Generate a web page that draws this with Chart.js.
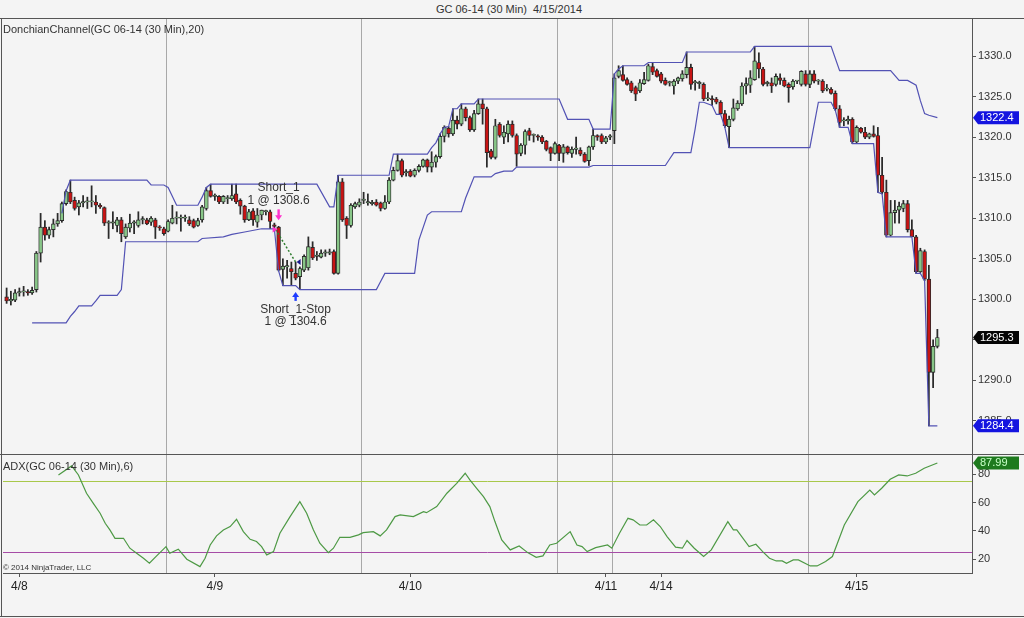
<!DOCTYPE html>
<html>
<head>
<meta charset="utf-8">
<title>GC 06-14 (30 Min) 4/15/2014</title>
<script src="https://cdn.jsdelivr.net/npm/chart.js@4.4.1/dist/chart.umd.min.js"></script>
<style>
  html, body { margin: 0; padding: 0; background: #f4f4f4; }
  body { width: 1024px; height: 618px; position: relative; overflow: hidden;
         font-family: "Liberation Sans", Arial, sans-serif; color: #333; }
  .box { position: absolute; }
  .txt { position: absolute; white-space: nowrap; line-height: 13px; }
  .hl { position: absolute; height: 1px; background: #555; }
  .vl { position: absolute; width: 1px; background: #555; }
</style>
</head>
<body>
<div class="box" style="left:0;top:18px;width:1024px;height:436px"><canvas id="priceChart"></canvas></div>
<div class="box" style="left:0;top:454px;width:1024px;height:162px"><canvas id="adxChart"></canvas></div>

<div class="txt" style="left:0;width:1018px;text-align:center;top:3px;font-size:11px">GC 06-14 (30 Min)&nbsp; 4/15/2014</div>
<div class="txt" style="left:3px;top:23px;font-size:11px">DonchianChannel(GC 06-14 (30 Min),20)</div>
<div class="txt" style="left:3px;top:460px;font-size:11px">ADX(GC 06-14 (30 Min),6)</div>
<div class="txt" style="left:3px;top:563px;font-size:8px;line-height:10px">© 2014 NinjaTrader, LLC</div>

<div class="hl" style="left:0;top:18px;width:1024px"></div>
<div class="hl" style="left:0;top:454px;width:1024px"></div>
<div class="hl" style="left:0;top:616px;width:1024px"></div>
<div class="vl" style="left:1px;top:18px;height:599px"></div>

<script>
// 30 min bars, index 0 = first bar on screen (evening of 4/7)
const opens = [
  1300.3, 1299.8, 1299.9, 1300.8, 1300.9, 1300.9, 1300.8, 1301.2, 1305.7, 1308.9,
  1307.9, 1308.6, 1309.3, 1309.7, 1311.8, 1313.2, 1312.2, 1311.4, 1311.9, 1312.0,
  1312.0, 1312.0, 1311.6, 1311.3, 1309.4, 1309.4, 1309.1, 1309.8, 1307.7, 1308.8,
  1309.4, 1309.1, 1309.8, 1309.8, 1309.5, 1309.8, 1308.9, 1308.7, 1308.4, 1309.4,
  1310.0, 1310.0, 1310.0, 1309.8, 1309.7, 1309.1, 1309.8, 1311.2, 1313.4, 1312.7,
  1312.7, 1312.0, 1312.4, 1312.4, 1313.0, 1312.2, 1311.5, 1309.8, 1310.9, 1309.5,
  1310.4, 1310.8, 1310.8, 1309.2, 1308.9, 1303.7, 1304.0, 1303.8, 1303.2, 1302.8,
  1303.6, 1303.9, 1306.4, 1305.3, 1305.2, 1305.7, 1305.7, 1305.9, 1303.2, 1314.5,
  1310.0, 1309.1, 1311.4, 1311.6, 1312.2, 1311.9, 1311.8, 1312.0, 1311.9, 1311.2,
  1312.0, 1314.7, 1315.9, 1317.1, 1315.6, 1315.8, 1315.3, 1315.9, 1316.4, 1317.2,
  1316.3, 1316.9, 1317.6, 1320.1, 1321.1, 1320.4, 1322.1, 1321.6, 1323.5, 1322.4,
  1320.9, 1322.9, 1324.1, 1323.5, 1318.3, 1317.5, 1321.6, 1320.0, 1320.4, 1321.6,
  1320.2, 1318.0, 1319.0, 1320.8, 1320.2, 1320.1, 1320.0, 1319.5, 1318.7, 1318.0,
  1319.0, 1318.0, 1318.8, 1318.0, 1318.5, 1318.4, 1317.9, 1317.1, 1318.8, 1320.2,
  1320.2, 1319.4, 1320.0, 1320.8, 1327.5, 1327.7, 1327.1, 1326.7, 1326.1, 1325.7,
  1326.6, 1327.0, 1328.7, 1328.2, 1327.8, 1327.0, 1326.7, 1326.3, 1326.9, 1327.2,
  1327.7, 1328.6, 1326.7, 1326.6, 1326.5, 1324.7, 1324.7, 1324.7, 1324.3, 1322.9,
  1321.3, 1322.2, 1323.5, 1324.1, 1326.3, 1326.4, 1327.1, 1329.2, 1328.4, 1326.6,
  1326.7, 1326.5, 1327.3, 1327.0, 1326.5, 1326.2, 1326.9, 1326.5, 1327.8, 1326.5,
  1327.8, 1326.9, 1326.9, 1325.9, 1325.9, 1325.4, 1323.5, 1322.0, 1322.0, 1322.2,
  1319.4, 1321.1, 1320.6, 1320.0, 1320.4, 1320.2, 1315.3, 1313.2, 1307.9, 1310.7,
  1311.0, 1311.2, 1311.8, 1308.6, 1307.7, 1303.4, 1305.9, 1302.5, 1291.0, 1294.2
];
const highs = [
  1301.4, 1301.0, 1301.2, 1301.4, 1301.6, 1301.2, 1301.5, 1305.9, 1310.6, 1309.7,
  1308.9, 1309.9, 1310.6, 1312.0, 1313.5, 1314.7, 1312.6, 1312.2, 1312.8, 1312.6,
  1314.0, 1312.8, 1311.8, 1311.4, 1309.7, 1310.8, 1310.1, 1310.1, 1309.3, 1310.5,
  1309.7, 1310.8, 1310.2, 1310.0, 1310.2, 1310.0, 1309.1, 1308.9, 1309.8, 1311.6,
  1310.8, 1310.4, 1310.4, 1310.2, 1309.9, 1310.0, 1311.6, 1313.8, 1314.2, 1313.0,
  1312.8, 1312.8, 1312.8, 1314.2, 1314.2, 1312.4, 1311.6, 1311.1, 1311.2, 1311.2,
  1311.0, 1311.0, 1311.0, 1309.4, 1309.0, 1305.0, 1304.8, 1304.6, 1304.6, 1304.0,
  1305.5, 1307.7, 1307.1, 1305.9, 1306.1, 1306.1, 1306.2, 1306.1, 1315.3, 1314.9,
  1310.2, 1311.8, 1312.0, 1312.4, 1313.2, 1313.0, 1312.2, 1312.3, 1312.0, 1312.8,
  1315.0, 1316.3, 1317.9, 1317.3, 1316.0, 1316.0, 1316.1, 1316.6, 1317.3, 1317.3,
  1318.2, 1317.8, 1320.4, 1321.4, 1321.3, 1323.5, 1322.6, 1324.1, 1323.7, 1322.6,
  1323.3, 1324.7, 1324.7, 1323.7, 1318.5, 1322.2, 1321.8, 1321.4, 1322.0, 1322.0,
  1320.4, 1319.2, 1320.9, 1321.1, 1320.4, 1320.3, 1320.2, 1319.6, 1318.8, 1319.4,
  1319.1, 1319.1, 1318.9, 1318.8, 1320.0, 1318.7, 1318.1, 1318.9, 1321.0, 1320.3,
  1320.4, 1320.1, 1320.3, 1327.8, 1328.8, 1328.8, 1327.3, 1326.9, 1326.3, 1327.1,
  1328.0, 1329.0, 1329.2, 1328.4, 1328.0, 1327.3, 1326.9, 1327.1, 1327.4, 1328.2,
  1330.5, 1329.0, 1327.0, 1326.9, 1326.7, 1325.5, 1325.1, 1324.9, 1324.5, 1323.3,
  1322.6, 1324.7, 1324.5, 1326.7, 1327.3, 1328.2, 1331.2, 1330.4, 1328.6, 1326.9,
  1327.3, 1327.8, 1327.8, 1327.3, 1326.7, 1327.1, 1327.0, 1328.2, 1328.2, 1328.2,
  1328.2, 1327.1, 1327.1, 1326.5, 1326.1, 1325.7, 1323.9, 1322.4, 1322.6, 1322.4,
  1321.4, 1321.2, 1321.2, 1320.5, 1321.4, 1321.2, 1317.5, 1314.7, 1312.2, 1312.2,
  1312.0, 1312.2, 1312.2, 1309.8, 1307.9, 1306.3, 1306.1, 1304.2, 1295.0, 1296.3
];
const lows = [
  1299.5, 1299.3, 1299.7, 1300.4, 1300.4, 1300.5, 1300.6, 1300.9, 1304.6, 1307.3,
  1307.5, 1307.7, 1309.0, 1309.5, 1311.6, 1311.8, 1311.0, 1310.4, 1311.4, 1311.2,
  1311.4, 1310.6, 1311.2, 1309.1, 1307.5, 1308.7, 1308.3, 1307.1, 1307.5, 1308.3,
  1308.1, 1308.9, 1309.3, 1309.2, 1309.1, 1307.5, 1308.5, 1307.9, 1308.3, 1309.3,
  1309.3, 1308.4, 1309.6, 1309.1, 1308.8, 1309.0, 1309.5, 1311.0, 1312.6, 1312.2,
  1311.8, 1311.8, 1311.8, 1312.2, 1311.8, 1310.5, 1309.5, 1309.7, 1309.1, 1308.9,
  1309.8, 1310.4, 1308.7, 1308.8, 1303.5, 1301.7, 1302.6, 1301.8, 1302.4, 1301.2,
  1303.4, 1303.6, 1304.9, 1304.8, 1305.1, 1305.3, 1305.5, 1303.1, 1303.1, 1309.6,
  1307.5, 1308.9, 1311.2, 1311.4, 1311.8, 1311.6, 1311.6, 1311.5, 1310.9, 1311.1,
  1311.8, 1314.6, 1315.8, 1315.1, 1315.2, 1315.1, 1315.1, 1315.7, 1316.3, 1315.7,
  1315.7, 1316.3, 1317.4, 1319.4, 1320.0, 1320.2, 1321.0, 1321.4, 1322.0, 1320.7,
  1320.7, 1322.8, 1321.6, 1316.3, 1317.3, 1317.3, 1320.0, 1319.2, 1319.4, 1320.0,
  1316.4, 1317.7, 1317.9, 1319.6, 1319.4, 1319.6, 1319.2, 1318.3, 1317.1, 1317.9,
  1317.1, 1316.9, 1317.9, 1317.5, 1317.9, 1317.7, 1316.9, 1316.5, 1318.5, 1319.6,
  1319.2, 1319.2, 1319.7, 1319.2, 1327.3, 1326.9, 1326.4, 1325.5, 1324.5, 1325.5,
  1326.5, 1326.9, 1327.7, 1327.4, 1326.7, 1326.4, 1326.3, 1325.3, 1326.6, 1326.9,
  1327.3, 1325.9, 1325.8, 1326.0, 1324.5, 1324.5, 1323.9, 1324.1, 1322.8, 1321.2,
  1318.7, 1322.0, 1323.3, 1323.9, 1325.3, 1325.5, 1327.0, 1327.3, 1326.3, 1326.3,
  1325.5, 1326.3, 1326.5, 1326.2, 1324.3, 1325.9, 1326.6, 1326.3, 1326.3, 1326.1,
  1326.7, 1326.5, 1325.5, 1325.7, 1325.3, 1323.3, 1321.2, 1321.4, 1321.6, 1319.2,
  1319.2, 1320.5, 1319.8, 1319.8, 1320.0, 1313.2, 1313.0, 1307.7, 1307.8, 1309.4,
  1309.4, 1310.8, 1308.3, 1307.8, 1303.2, 1303.3, 1302.3, 1284.4, 1289.1, 1294.0
];
const closes = [
  1299.8, 1300.0, 1300.8, 1300.9, 1301.0, 1300.8, 1301.1, 1305.7, 1308.9, 1307.9,
  1308.6, 1309.3, 1309.7, 1311.8, 1313.3, 1312.0, 1311.2, 1311.9, 1312.0, 1312.0,
  1312.0, 1311.6, 1311.4, 1309.4, 1309.4, 1309.4, 1309.8, 1308.1, 1308.9, 1309.4,
  1309.4, 1309.8, 1309.8, 1309.3, 1310.0, 1308.9, 1308.8, 1308.1, 1309.6, 1310.0,
  1310.0, 1310.0, 1310.0, 1309.3, 1308.9, 1309.7, 1311.4, 1313.4, 1312.7, 1312.7,
  1312.0, 1312.7, 1312.4, 1312.8, 1312.0, 1311.5, 1309.8, 1310.8, 1309.8, 1310.4,
  1311.0, 1310.8, 1309.6, 1309.0, 1303.6, 1304.1, 1304.0, 1303.4, 1302.6, 1303.8,
  1305.3, 1306.5, 1305.1, 1305.3, 1305.7, 1305.7, 1305.8, 1303.2, 1314.5, 1309.8,
  1309.1, 1311.6, 1311.8, 1312.0, 1312.2, 1311.9, 1311.8, 1311.6, 1311.2, 1312.0,
  1314.7, 1315.9, 1317.1, 1315.3, 1315.7, 1315.2, 1315.9, 1316.4, 1317.2, 1316.3,
  1316.9, 1317.6, 1320.1, 1321.2, 1320.4, 1322.1, 1321.6, 1323.5, 1322.4, 1320.9,
  1322.9, 1324.1, 1323.5, 1318.1, 1317.5, 1321.4, 1320.2, 1320.6, 1321.6, 1320.2,
  1317.9, 1319.0, 1320.7, 1320.2, 1320.2, 1320.0, 1319.4, 1318.5, 1318.0, 1319.2,
  1318.0, 1318.8, 1318.1, 1318.5, 1318.5, 1317.9, 1317.0, 1318.8, 1320.2, 1320.0,
  1319.4, 1319.9, 1320.0, 1327.3, 1328.2, 1327.0, 1326.5, 1325.7, 1325.3, 1326.7,
  1327.1, 1328.8, 1328.0, 1327.5, 1326.9, 1326.5, 1326.7, 1326.9, 1327.3, 1327.8,
  1328.6, 1326.5, 1326.7, 1326.6, 1324.7, 1324.7, 1324.6, 1324.3, 1322.9, 1321.4,
  1322.2, 1323.6, 1324.2, 1326.3, 1326.6, 1327.3, 1329.4, 1328.4, 1326.5, 1326.6,
  1326.3, 1327.5, 1327.0, 1326.3, 1326.1, 1326.9, 1326.9, 1328.1, 1326.5, 1327.8,
  1326.9, 1326.9, 1325.7, 1325.9, 1325.4, 1323.5, 1321.8, 1322.0, 1322.2, 1319.4,
  1321.2, 1320.6, 1320.0, 1320.4, 1320.1, 1315.3, 1313.2, 1307.9, 1310.7, 1311.0,
  1311.5, 1311.8, 1308.6, 1307.7, 1303.4, 1306.0, 1302.5, 1291.0, 1294.2, 1295.3
];

// DonchianChannel(20) (bar index, price)
const upperBars = [13, 14, 15, 33, 34, 37, 38, 40, 45, 46, 47, 48, 73, 76, 77, 78, 90, 91, 99, 100,
  101, 102, 103, 104, 105, 106, 107, 110, 111, 130, 132, 137, 138, 142, 143, 144, 145, 150, 151, 159,
  160, 175, 176, 194, 196, 208, 210, 212, 214, 215, 216, 217, 219];
const upperVals = [1310.6, 1313.4, 1314.7, 1314.7, 1314.1, 1314.1, 1313.8, 1311.6, 1311.6, 1312.6,
  1313.8, 1314.2, 1314.2, 1311.4, 1311.4, 1315.3, 1315.3, 1317.9, 1317.9, 1318.7,
  1319.3, 1320.4, 1321.2, 1321.3, 1323.5, 1323.5, 1324.1, 1324.1, 1324.7, 1324.7,
  1322.2, 1322.2, 1321.0, 1321.0, 1327.8, 1328.4, 1328.8, 1328.8, 1329.2, 1329.2,
  1330.5, 1330.5, 1331.2, 1331.2, 1328.2, 1328.2, 1327.0, 1327.0, 1326.4, 1324.5,
  1322.9, 1322.7, 1322.4];
const lowerBars = [6, 14, 15, 16, 17, 20, 21, 22, 26, 27, 28, 45, 46, 51, 53, 56, 60, 63, 64, 65,
  68, 69, 87, 88, 89, 96, 97, 99, 100, 107, 108, 110, 114, 115, 117, 119, 120, 137, 138, 155,
  156, 157, 161, 162, 163, 164, 166, 167, 168, 169, 170, 189, 190, 191, 194, 195, 196, 198, 199, 204,
  205, 206, 207, 213, 214, 215, 216, 217, 219];
const lowerVals = [1297.1, 1297.1, 1297.9, 1298.5, 1299.2, 1299.2, 1299.8, 1300.5, 1300.5, 1301.2,
  1307.1, 1307.1, 1307.5, 1307.7, 1308.0, 1308.3, 1308.7, 1308.7, 1303.5, 1301.7,
  1301.7, 1301.2, 1301.2, 1302.2, 1303.2, 1303.2, 1307.3, 1310.4, 1310.8, 1310.8,
  1312.5, 1315.1, 1315.1, 1315.5, 1315.8, 1315.8, 1316.3, 1316.3, 1316.5, 1316.5,
  1317.3, 1318.1, 1318.1, 1321.0, 1324.3, 1324.3, 1323.9, 1322.8, 1322.8, 1321.2,
  1318.7, 1318.7, 1321.5, 1324.3, 1324.3, 1323.3, 1321.2, 1321.2, 1319.2, 1319.2,
  1313.2, 1313.0, 1307.7, 1307.7, 1303.2, 1303.2, 1302.3, 1284.4, 1284.4];

// ADX(6), vertices
const adxBars = [12.2, 15.3, 16.9, 18.8, 20.4, 22.0, 23.2, 24.3, 25.5, 27.5,
  29.0, 30.6, 32.2, 33.6, 35.3, 37.5, 38.4, 40.4, 42.4, 45.5,
  46.7, 47.9, 49.4, 51.0, 52.6, 54.1, 55.7, 57.3, 58.8, 60.0,
  61.2, 62.8, 64.3, 66.7, 69.0, 70.6, 72.2, 73.7, 75.7, 76.9,
  78.4, 80.8, 82.8, 83.9, 86.3, 87.9, 89.4, 91.4, 92.6, 95.7,
  98.1, 98.8, 101.2, 103.6, 105.9, 107.9, 109.0, 110.6, 112.2, 113.7,
  114.9, 116.5, 118.5, 120.6, 122.6, 124.6, 126.2, 127.8, 129.4, 132.6,
  134.2, 135.4, 136.6, 138.6, 141.4, 142.4, 144.2, 146.2, 147.4, 149.0,
  150.6, 152.2, 153.8, 155.4, 157.4, 159.0, 160.1, 161.8, 164.0, 165.8,
  169.7, 171.0, 171.8, 174.7, 176.3, 177.9, 179.5, 181.1, 182.5, 183.5,
  185.1, 186.3, 189.1, 190.7, 192.7, 194.3, 197.1, 200.3, 203.1, 204.2,
  205.9, 207.9, 209.9, 211.9, 213.9, 215.9, 219];
const adxVals = [79.5, 85.9, 79.5, 66.6, 59.5, 52.5, 45.4, 40.7, 34.8, 34.8,
  27.8, 24.2, 20.7, 17.2, 22.4, 28.9, 24.2, 27.1, 20.0, 14.8,
  20.7, 30.1, 36.5, 40.7, 43.1, 48.2, 39.5, 34.1, 32.5, 28.9,
  23.1, 25.4, 38.4, 50.1, 60.7, 52.5, 40.7, 31.3, 24.7, 27.8,
  35.5, 35.5, 37.2, 38.8, 39.5, 36.5, 40.7, 50.1, 51.3, 50.1,
  53.6, 52.9, 57.2, 66.6, 73.6, 80.7, 76.0, 70.1, 64.2, 57.2,
  46.6, 33.6, 26.6, 29.4, 24.7, 21.4, 22.4, 30.1, 31.3, 39.5,
  30.1, 28.9, 25.4, 28.2, 30.1, 27.8, 38.4, 48.9, 47.8, 44.2,
  44.2, 47.8, 43.1, 36.0, 28.5, 27.8, 33.2, 27.8, 21.9, 26.6,
  46.6, 40.7, 40.7, 28.9, 30.6, 25.4, 20.7, 18.8, 18.8, 17.2,
  19.5, 19.5, 15.3, 15.3, 18.4, 21.9, 44.2, 60.7, 68.9, 65.4,
  70.1, 76.5, 79.5, 78.8, 80.7, 84.2, 87.99];
const adxLevels = [75, 25];

// axes
const priceTicks = [1285, 1290, 1295, 1300, 1305, 1310, 1315, 1320, 1325, 1330];
const adxTicks = [20, 40, 60, 80];
const dateTickBars = [3, 49, 95, 141, 154, 200];
const dateTickLabels = ['4/8', '4/9', '4/10', '4/11', '4/14', '4/15'];
const sessionBreaks = [37.5, 83.5, 129.5, 142.5, 188.5];

// the one trade on the chart
const entryBar = 64, entryPrice = 1308.6, entryText = ['Short_1', '1 @ 1308.6'];
const exitBar = 68, exitPrice = 1304.6, exitText = ['Short_1-Stop', '1 @ 1304.6'];

const X_MIN = -0.85, X_MAX = 227.15;
const FONT = '"Liberation Sans", Arial, sans-serif';

Chart.defaults.font.family = FONT;
Chart.defaults.font.size = 11;
Chart.defaults.color = '#333';

// fixed axis sizes so both panels line up
function fixWidth(s) { s.width = 52; s.paddingTop = 0; s.paddingBottom = 0; }
function fixHeight(s) { s.height = 43; s.paddingLeft = 0; s.paddingRight = 0; }

// price tag on the right axis
function drawTag(ctx, x, y, text, fill, color) {
  const h = 13, w = 41;
  ctx.save();
  ctx.fillStyle = fill;
  ctx.beginPath();
  ctx.moveTo(x, y);
  ctx.lineTo(x + 5, y - h / 2);
  ctx.lineTo(x + 5 + w, y - h / 2);
  ctx.lineTo(x + 5 + w, y + h / 2);
  ctx.lineTo(x + 5, y + h / 2);
  ctx.closePath();
  ctx.fill();
  ctx.fillStyle = color;
  ctx.font = '11px ' + FONT;
  ctx.textBaseline = 'middle';
  ctx.fillText(text, x + 7, y + 0.5);
  ctx.restore();
}

function drawArrow(ctx, x, tipY, tailY, color) {
  const dir = tailY > tipY ? 1 : -1; // 1 = pointing up
  ctx.save();
  ctx.fillStyle = color;
  ctx.fillRect(x - 1.2, Math.min(tipY + dir * 4, tailY), 2.4, Math.abs(tailY - tipY) - 4);
  ctx.beginPath();
  ctx.moveTo(x, tipY);
  ctx.lineTo(x - 3.5, tipY + dir * 5);
  ctx.lineTo(x + 3.5, tipY + dir * 5);
  ctx.closePath();
  ctx.fill();
  ctx.restore();
}

const sessionLines = {
  id: 'sessionLines',
  beforeDatasetsDraw(chart) {
    const { ctx, chartArea, scales: { x } } = chart;
    ctx.save();
    ctx.strokeStyle = '#a8a8a8';
    ctx.lineWidth = 1;
    sessionBreaks.forEach(b => {
      const px = Math.round(x.getPixelForValue(b)) + 0.5;
      ctx.beginPath();
      ctx.moveTo(px, chartArea.top);
      ctx.lineTo(px, chartArea.bottom);
      ctx.stroke();
    });
    ctx.restore();
  }
};

const priceDecor = {
  id: 'priceDecor',
  afterDatasetsDraw(chart) {
    const { ctx, chartArea, scales: { x, y } } = chart;
    const ex = x.getPixelForValue(entryBar), ey = y.getPixelForValue(entryPrice);
    const xx = x.getPixelForValue(exitBar), xy = y.getPixelForValue(exitPrice);

    // dotted trade line
    ctx.save();
    ctx.setLineDash([2, 2]);
    ctx.strokeStyle = '#2f7d2f';
    ctx.lineWidth = 1.5;
    ctx.beginPath();
    ctx.moveTo(ex - 3, ey);
    ctx.lineTo(xx, xy);
    ctx.stroke();
    ctx.setLineDash([]);

    // entry mark
    ctx.fillStyle = '#ff33cc';
    ctx.beginPath();
    ctx.moveTo(ex - 6, ey - 3);
    ctx.lineTo(ex - 1, ey);
    ctx.lineTo(ex - 6, ey + 3);
    ctx.closePath();
    ctx.fill();
    // exit mark
    ctx.fillStyle = '#1a1a8c';
    ctx.beginPath();
    ctx.moveTo(xx + 1, xy);
    ctx.lineTo(xx + 5, xy - 3);
    ctx.lineTo(xx + 5, xy + 3);
    ctx.closePath();
    ctx.fill();
    ctx.restore();

    // arrows + labels
    const hiPx = y.getPixelForValue(highs[entryBar]);
    drawArrow(ctx, ex, hiPx - 6, hiPx - 17, '#ff33cc');
    const loPx = y.getPixelForValue(lows[exitBar]);
    drawArrow(ctx, xx, loPx + 12, loPx + 21, '#1f3dff');

    ctx.save();
    ctx.fillStyle = '#333';
    ctx.font = '12px ' + FONT;
    ctx.textAlign = 'center';
    ctx.textBaseline = 'middle';
    ctx.fillText(entryText[0], ex, hiPx - 39);
    ctx.fillText(entryText[1], ex, hiPx - 26);
    ctx.fillText(exitText[0], xx, loPx + 30);
    ctx.fillText(exitText[1], xx, loPx + 42);
    ctx.restore();

    // last values on the axis
    const ax = chartArea.right + 1;
    const up = upperVals[upperVals.length - 1];
    const lo = lowerVals[lowerVals.length - 1];
    const cl = closes[closes.length - 1];
    drawTag(ctx, ax, y.getPixelForValue(up), up.toFixed(1), '#1414e0', '#fff');
    drawTag(ctx, ax, y.getPixelForValue(lo), lo.toFixed(1), '#1414e0', '#fff');
    drawTag(ctx, ax, y.getPixelForValue(cl), cl.toFixed(1), '#050505', '#fff');
  }
};

const adxDecor = {
  id: 'adxDecor',
  beforeDatasetsDraw(chart) {
    const { ctx, chartArea, scales: { y } } = chart;
    const colors = ['#a8c84a', '#a64ca6'];
    ctx.save();
    ctx.lineWidth = 1;
    adxLevels.forEach((lv, i) => {
      const py = Math.round(y.getPixelForValue(lv)) + 0.5;
      ctx.strokeStyle = colors[i];
      ctx.beginPath();
      ctx.moveTo(chartArea.left, py);
      ctx.lineTo(chartArea.right, py);
      ctx.stroke();
    });
    ctx.restore();
  },
  afterDatasetsDraw(chart) {
    const { ctx, chartArea, scales: { y } } = chart;
    const last = adxVals[adxVals.length - 1];
    drawTag(ctx, chartArea.right + 1, y.getPixelForValue(last), last.toFixed(2), '#1e7a1e', '#c8ffc8');
  }
};

const bodyColors = opens.map((o, i) => closes[i] >= o ? '#88c688' : '#c81414');

new Chart(document.getElementById('priceChart'), {
  type: 'bar',
  data: {
    datasets: [
      {
        label: 'wick',
        data: lows.map((l, i) => ({ x: i, y: [l, highs[i]] })),
        backgroundColor: '#2a2a2a',
        barThickness: 1.1,
        minBarLength: 1,
        grouped: false,
        order: 2
      },
      {
        label: 'body',
        data: opens.map((o, i) => ({ x: i, y: [o, closes[i]] })),
        backgroundColor: bodyColors,
        borderColor: '#2a2a2a',
        borderWidth: 0.9,
        borderSkipped: false,
        barThickness: 3.8,
        minBarLength: 1.2,
        grouped: false,
        order: 1
      },
      {
        type: 'line',
        label: 'upper',
        data: upperBars.map((b, i) => ({ x: b, y: upperVals[i] })),
        borderColor: '#5252b4',
        borderWidth: 1.2,
        pointRadius: 0,
        tension: 0,
        order: 0
      },
      {
        type: 'line',
        label: 'lower',
        data: lowerBars.map((b, i) => ({ x: b, y: lowerVals[i] })),
        borderColor: '#5252b4',
        borderWidth: 1.2,
        pointRadius: 0,
        tension: 0,
        order: 0
      }
    ]
  },
  options: {
    responsive: true,
    maintainAspectRatio: false,
    animation: false,
    layout: { padding: { left: 3, right: 0, top: 0, bottom: 0 } },
    plugins: { legend: { display: false }, tooltip: { enabled: false } },
    scales: {
      x: { type: 'linear', min: X_MIN, max: X_MAX, offset: false, display: false },
      y: {
        position: 'right',
        min: 1280.93,
        max: 1334.69,
        afterFit: fixWidth,
        afterBuildTicks: s => { s.ticks = priceTicks.map(v => ({ value: v })); },
        ticks: { callback: v => v.toFixed(1), color: '#333', padding: 2, font: { size: 11 } },
        grid: { drawOnChartArea: false, tickLength: 4, color: '#555' },
        border: { color: '#555' }
      }
    }
  },
  plugins: [sessionLines, priceDecor]
});

new Chart(document.getElementById('adxChart'), {
  type: 'line',
  data: {
    datasets: [{
      label: 'ADX',
      data: adxBars.map((b, i) => ({ x: b, y: adxVals[i] })),
      borderColor: '#4d9944',
      borderWidth: 1.2,
      pointRadius: 0,
      tension: 0
    }]
  },
  options: {
    responsive: true,
    maintainAspectRatio: false,
    animation: false,
    layout: { padding: { left: 3, right: 0, top: 0, bottom: 0 } },
    plugins: { legend: { display: false }, tooltip: { enabled: false } },
    scales: {
      x: {
        type: 'linear',
        min: X_MIN,
        max: X_MAX,
        offset: false,
        afterFit: fixHeight,
        afterBuildTicks: s => { s.ticks = dateTickBars.map(v => ({ value: v })); },
        ticks: {
          autoSkip: false, maxRotation: 0, color: '#222', padding: 2, font: { size: 12 },
          callback: (v, i) => dateTickLabels[i]
        },
        grid: { drawOnChartArea: false, tickLength: 4, color: '#555' },
        border: { color: '#555' }
      },
      y: {
        position: 'right',
        min: 10.3,
        max: 94.3,
        afterFit: fixWidth,
        afterBuildTicks: s => { s.ticks = adxTicks.map(v => ({ value: v })); },
        ticks: { color: '#333', padding: 2, font: { size: 11 } },
        grid: { drawOnChartArea: false, tickLength: 4, color: '#555' },
        border: { color: '#555' }
      }
    }
  },
  plugins: [sessionLines, adxDecor]
});
</script>
</body>
</html>
